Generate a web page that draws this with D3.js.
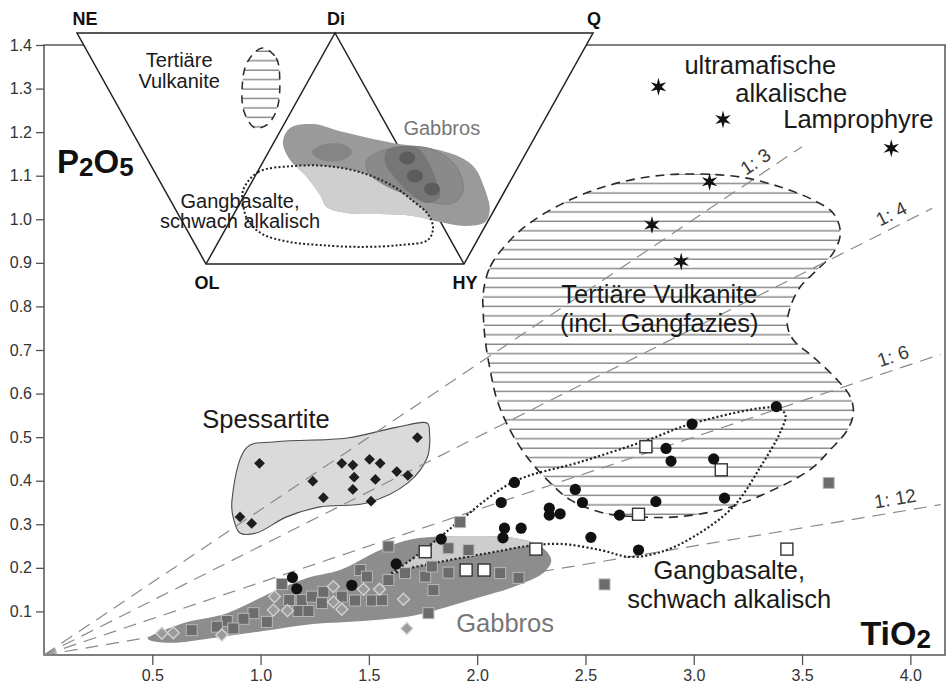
<!DOCTYPE html>
<html>
<head>
<meta charset="utf-8">
<script src="https://cdn.jsdelivr.net/npm/d3@7"></script>
<style>
  body { margin: 0; background: #fff; }
  svg { display: block; font-family: "Liberation Sans", Arial, Helvetica, sans-serif; }
</style>
</head>
<body>
<svg id="chart" width="948" height="690"></svg>
<script>
// ---- tick values ----
const xTicks = [0.5, 1.0, 1.5, 2.0, 2.5, 3.0, 3.5, 4.0];
const yTicks = [0.1, 0.2, 0.3, 0.4, 0.5, 0.6, 0.7, 0.8, 0.9, 1.0, 1.1, 1.2, 1.3, 1.4];

// ---- P2O5 : TiO2 ratio lines (1:n) and where they end ----
const ratios = [3, 4, 6, 12];
const ratioEnd = [3.5, 4.1, 4.14, 4.14];
const ratioLabelX = [3.32, 3.94, 3.94, 3.94];

// ---- samples [TiO2, P2O5] ----
const spessartite = [[0.995,0.440],[0.905,0.317],[0.959,0.302],[1.241,0.399],[1.290,0.361],
  [1.375,0.440],[1.426,0.436],[1.503,0.449],[1.552,0.440],[1.432,0.408],[1.530,0.403],
  [1.426,0.380],[1.629,0.421],[1.680,0.412],[1.510,0.353],[1.724,0.499]];

const gangbasalte = [[3.381,0.570],[2.992,0.530],[2.872,0.474],[2.895,0.445],[3.092,0.450],
  [2.172,0.396],[2.111,0.350],[2.453,0.380],[2.486,0.350],[2.825,0.352],[3.142,0.360],
  [2.333,0.337],[2.333,0.321],[2.383,0.324],[2.657,0.321],[2.126,0.291],[2.203,0.291],
  [2.119,0.269],[2.525,0.270],[2.745,0.241],[1.834,0.266],[1.626,0.209],[1.421,0.160],
  [1.147,0.178],[1.167,0.152]];

const openSquares = [[2.779,0.478],[3.127,0.425],[2.745,0.323],[2.271,0.243],[3.430,0.243],
  [1.949,0.195],[2.032,0.195],[1.760,0.237]];

const gabbroSquares = [[1.590,0.249],[1.921,0.305],[1.867,0.245],[1.960,0.241],[1.460,0.195],
  [1.491,0.180],[1.590,0.172],[1.667,0.188],[1.760,0.180],[1.791,0.203],[1.867,0.189],
  [2.106,0.188],[2.191,0.177],[1.798,0.149],[1.098,0.163],[1.132,0.126],[1.190,0.126],
  [1.237,0.134],[1.290,0.145],[1.283,0.119],[1.375,0.134],[1.436,0.125],[1.514,0.125],
  [1.560,0.126],[1.175,0.101],[1.221,0.101],[0.967,0.096],[0.921,0.083],[1.029,0.076],
  [0.844,0.078],[0.798,0.065],[0.874,0.061],[0.682,0.057],[1.775,0.096],[2.588,0.162],
  [3.623,0.395]];

const gabbroDiamonds = [[1.064,0.134],[1.336,0.157],[1.475,0.151],[1.549,0.151],[1.059,0.103],
  [1.124,0.102],[1.375,0.105],[1.660,0.128],[0.821,0.046],[1.675,0.061],[0.544,0.050],
  [0.597,0.051],[1.336,0.122]];

const lamprophyre = [[2.837,1.304],[3.135,1.229],[3.912,1.163],[3.073,1.086],[2.807,0.987],[2.942,0.903]];

// ---- fields [TiO2, P2O5] ----
const fieldSpessartite = [[0.868,0.356],[0.938,0.477],[1.058,0.489],[1.40,0.498],[1.63,0.523],
  [1.77,0.532],[1.78,0.51],[1.77,0.454],[1.68,0.395],[1.49,0.349],[1.275,0.34],[1.12,0.317],
  [0.98,0.28],[0.905,0.28],[0.873,0.317]];

const fieldGabbros = [[0.480,0.037],[0.642,0.073],[0.845,0.096],[1.058,0.145],[1.215,0.177],
  [1.367,0.195],[1.552,0.241],[1.704,0.266],[1.935,0.273],[2.166,0.269],[2.291,0.250],
  [2.342,0.218],[2.305,0.188],[2.166,0.156],[2.014,0.133],[1.861,0.110],[1.704,0.090],
  [1.473,0.078],[1.242,0.071],[1.012,0.055],[0.781,0.039],[0.582,0.028]];

const fieldTertiaer = [[2.028,0.831],[2.060,0.891],[2.152,0.952],[2.245,0.992],[2.397,1.037],
  [2.582,1.074],[2.785,1.097],[2.970,1.104],[3.215,1.097],[3.400,1.074],[3.552,1.044],
  [3.644,1.014],[3.677,0.969],[3.644,0.923],[3.570,0.884],[3.492,0.845],[3.446,0.799],
  [3.432,0.757],[3.460,0.723],[3.552,0.684],[3.663,0.631],[3.723,0.592],[3.737,0.555],
  [3.709,0.516],[3.630,0.471],[3.552,0.431],[3.460,0.402],[3.367,0.379],[3.261,0.356],
  [3.122,0.333],[2.924,0.317],[2.753,0.317],[2.582,0.326],[2.430,0.356],[2.323,0.402],
  [2.231,0.454],[2.152,0.516],[2.092,0.585],[2.060,0.654],[2.037,0.723],[2.028,0.785]];

const fieldGangbasalte = [[1.575,0.177],[1.704,0.222],[1.829,0.271],[1.908,0.303],[2.166,0.397],
  [2.476,0.443],[2.785,0.493],[2.998,0.532],[3.386,0.567],[3.423,0.551],[3.400,0.512],
  [3.307,0.431],[3.182,0.340],[2.998,0.271],[2.845,0.236],[2.707,0.225],[2.568,0.241],
  [2.383,0.255],[2.231,0.250],[2.074,0.236],[1.950,0.225],[1.800,0.211],[1.644,0.193]];

// ---- inset NE-Di-Q / OL-HY diagram, coordinates u (NE=0 .. Q=100), v (top=0 .. base=100) ----
const insetVertices = [
  {name: "NE", u: 0, v: 0}, {name: "Di", u: 50, v: 0}, {name: "Q", u: 100, v: 0},
  {name: "OL", u: 25, v: 100}, {name: "HY", u: 75, v: 100}];

const insetTertiaer = [[35.9,6.5],[38.6,10.8],[39.3,20.3],[38.8,32.5],[37.0,39.4],[34.5,41.1],
  [32.4,34.2],[32.0,23.8],[33.0,12.6]];

const insetGabbros = [[39.9,47.2],[41.3,41.1],[45.7,39.4],[51.6,42.9],[61.2,47.6],[68.4,49.8],
  [74.2,53.7],[77.1,58.4],[79.1,68.0],[80.0,76.6],[79.1,81.8],[75.2,83.5],[70.3,81.8],
  [65.1,79.2],[58.7,78.4],[52.3,77.9],[48.4,75.3],[47.1,70.1],[44.2,61.5],[41.3,55.0]];

const insetGabbrosMid = [[56.2,55.0],[59.7,50.6],[67.1,49.4],[71.7,53.7],[74.2,60.6],[74.8,68.8],
  [72.9,73.6],[68.4,73.2],[63.6,69.7],[59.3,65.4],[56.4,60.2]];

const insetGabbrosCore = [[60.1,50.6],[65.9,49.8],[68.4,57.1],[69.8,64.9],[70.3,71.0],[67.8,73.6],
  [64.5,69.3],[62.0,63.6],[59.7,56.3]];

const insetGabbrosLeft = [[45.5,51.5],[47.5,48.5],[51.5,48.2],[53.3,51.5],[51.5,55.0],[47.3,55.0]];

const insetBlobs = [[64.0,54.1],[65.5,61.9],[68.8,67.5]];

const insetGangbasalte = [[32.2,68.0],[35.1,60.2],[41.9,57.6],[48.4,57.6],[54.8,60.2],[61.2,66.2],
  [65.1,72.7],[68.0,78.4],[69.0,84.4],[68.0,89.6],[62.6,91.8],[54.8,92.6],[47.1,91.8],
  [41.3,90.5],[35.9,87.0],[33.1,81.0],[32.2,74.5]];

// ---- text ----
const mainLabels = [
  {text: "Spessartite", x: 1.025, y: 0.521, fill: "#1a1a1a"},
  {text: "Gabbros", x: 2.129, y: 0.053, fill: "#777"},
  {text: "Tertiäre Vulkanite", x: 2.841, y: 0.808, fill: "#1a1a1a"},
  {text: "(incl. Gangfazies)", x: 2.841, y: 0.741, fill: "#1a1a1a"},
  {text: "Gangbasalte,", x: 3.164, y: 0.174, fill: "#1a1a1a"},
  {text: "schwach alkalisch", x: 3.164, y: 0.108, fill: "#1a1a1a"},
  {text: "ultramafische", x: 3.307, y: 1.333, fill: "#1a1a1a"},
  {text: "alkalische", x: 3.450, y: 1.269, fill: "#1a1a1a"},
  {text: "Lamprophyre", x: 3.760, y: 1.210, fill: "#1a1a1a"}];

const insetLabels = [
  {text: "Tertiäre", u: 19.8, v: 14.7, fill: "#1a1a1a"},
  {text: "Vulkanite", u: 19.8, v: 23.8, fill: "#1a1a1a"},
  {text: "Gabbros", u: 70.7, v: 44.2, fill: "#777"},
  {text: "Gangbasalte,", u: 31.6, v: 75.8, fill: "#1a1a1a"},
  {text: "schwach alkalisch", u: 31.6, v: 84.4, fill: "#1a1a1a"}];

// ---- scales ----
const svg = d3.select("#chart");
const x = d3.scaleLinear().domain([0, 4.16]).range([44, 945]);
const y = d3.scaleLinear().domain([0, 1.4]).range([655, 45]);
const u = d3.scaleLinear().domain([0, 100]).range([77, 593]);
const v = d3.scaleLinear().domain([0, 100]).range([33, 264]);

const field = d3.line().x(d => x(d[0])).y(d => y(d[1])).curve(d3.curveCatmullRomClosed.alpha(0.5));
const insetField = d3.line().x(d => u(d[0])).y(d => v(d[1])).curve(d3.curveCatmullRomClosed.alpha(0.5));

// patterns and clips
const defs = svg.append("defs");
const hatch = defs.append("pattern").attr("id", "hatch")
  .attr("patternUnits", "userSpaceOnUse").attr("width", 10).attr("height", 9.45);
hatch.append("line").attr("x1", 0).attr("x2", 10).attr("y1", 4).attr("y2", 4)
  .attr("stroke", "#707070").attr("stroke-width", 1.2);
defs.append("clipPath").attr("id", "gabClip").append("path").attr("d", field(fieldGabbros));
defs.append("clipPath").attr("id", "insetGabClip").append("path").attr("d", insetField(insetGabbros));

// frame
svg.append("rect")
  .attr("x", x(0)).attr("y", y(1.4))
  .attr("width", x(4.16) - x(0)).attr("height", y(0) - y(1.4))
  .attr("fill", "none").attr("stroke", "#555").attr("stroke-width", 1.5);

// fields
svg.append("path").attr("d", field(fieldGabbros)).attr("fill", "#8d8d8d");
svg.append("path").attr("d", field(fieldGangbasalte)).attr("fill", "#cdcdcd")
  .attr("clip-path", "url(#gabClip)");
svg.append("path").attr("d", field(fieldSpessartite))
  .attr("fill", "#dadada").attr("stroke", "#4a4a4a").attr("stroke-width", 1.1);
svg.append("path").attr("d", field(fieldTertiaer))
  .attr("fill", "url(#hatch)").attr("stroke", "#2a2a2a").attr("stroke-width", 1.6)
  .attr("stroke-dasharray", "9,6");

// ratio lines
ratios.forEach((r, i) => {
  svg.append("line")
    .attr("x1", x(0)).attr("y1", y(0))
    .attr("x2", x(ratioEnd[i])).attr("y2", y(ratioEnd[i] / r))
    .attr("stroke", "#8a8a8a").attr("stroke-width", 1.2).attr("stroke-dasharray", "13,8");
  const ang = Math.atan2(y(1 / r) - y(0), x(1) - x(0)) * 180 / Math.PI;
  const lx = x(ratioLabelX[i]), ly = y(ratioLabelX[i] / r);
  svg.append("text")
    .attr("transform", `translate(${lx},${ly}) rotate(${ang}) translate(0,-7)`)
    .attr("text-anchor", "middle").attr("font-size", 19).attr("fill", "#3a3a3a")
    .text("1: " + r);
});

svg.append("path").attr("d", field(fieldGangbasalte))
  .attr("fill", "none").attr("stroke", "#222").attr("stroke-width", 2.2)
  .attr("stroke-dasharray", "2,2.3");

// symbols
svg.append("g").selectAll("rect").data(gabbroSquares).join("rect")
  .attr("x", d => x(d[0]) - 5.5).attr("y", d => y(d[1]) - 5.5)
  .attr("width", 11).attr("height", 11)
  .attr("fill", "#6c6c6c").attr("stroke", "#b8b8b8").attr("stroke-width", 1);

const diamond = d3.symbol().type(d3.symbolSquare).size(72);
svg.append("g").selectAll("path").data(gabbroDiamonds).join("path")
  .attr("d", diamond)
  .attr("transform", d => `translate(${x(d[0])},${y(d[1])}) rotate(45)`)
  .attr("fill", "#9b9b9b").attr("stroke", "#d4d4d4").attr("stroke-width", 1.3);

svg.append("g").selectAll("path").data(spessartite).join("path")
  .attr("d", d3.symbol().type(d3.symbolSquare).size(58))
  .attr("transform", d => `translate(${x(d[0])},${y(d[1])}) rotate(45)`)
  .attr("fill", "#1e1e1e");

svg.append("g").selectAll("rect").data(openSquares).join("rect")
  .attr("x", d => x(d[0]) - 6).attr("y", d => y(d[1]) - 6)
  .attr("width", 12).attr("height", 12)
  .attr("fill", "#fff").attr("stroke", "#333").attr("stroke-width", 1.4);

svg.append("g").selectAll("circle").data(gangbasalte).join("circle")
  .attr("cx", d => x(d[0])).attr("cy", d => y(d[1])).attr("r", 5.6)
  .attr("fill", "#111");

function starPath(r) {
  const pts = [];
  for (let i = 0; i < 12; i++) {
    const a = Math.PI / 6 * i - Math.PI / 2;
    const rr = i % 2 ? r * 0.36 : r;
    pts.push([rr * Math.cos(a), rr * Math.sin(a)]);
  }
  return "M" + pts.join("L") + "Z";
}
svg.append("g").selectAll("path").data(lamprophyre).join("path")
  .attr("d", starPath(9))
  .attr("transform", d => `translate(${x(d[0])},${y(d[1])})`)
  .attr("fill", "#111");

// main labels
svg.append("g").selectAll("text").data(mainLabels).join("text")
  .attr("x", d => x(d.x)).attr("y", d => y(d.y))
  .attr("text-anchor", "middle").attr("font-size", 25.5).attr("fill", d => d.fill)
  .text(d => d.text);

const p2o5 = svg.append("text").attr("x", x(0.06)).attr("y", y(1.106))
  .attr("font-size", 33).attr("font-weight", "bold").attr("fill", "#111");
p2o5.append("tspan").text("P");
p2o5.append("tspan").attr("font-size", 26).attr("dy", 3).text("2");
p2o5.append("tspan").attr("dy", -3).text("O");
p2o5.append("tspan").attr("font-size", 26).attr("dy", 3).text("5");

const tio2 = svg.append("text").attr("x", x(4.095)).attr("y", y(0.023))
  .attr("text-anchor", "end").attr("font-size", 34).attr("font-weight", "bold").attr("fill", "#111");
tio2.append("tspan").text("TiO");
tio2.append("tspan").attr("font-size", 26).attr("dy", 3).text("2");

// ---- inset ----
const V = Object.fromEntries(insetVertices.map(d => [d.name, [u(d.u), v(d.v)]]));
const inset = svg.append("g");
inset.append("path")
  .attr("d", "M" + [V.NE, V.Q, V.HY, V.OL].join("L") + "Z")
  .attr("fill", "#fff").attr("stroke", "#222").attr("stroke-width", 1.5);
inset.append("path")
  .attr("d", "M" + [V.OL, V.Di, V.HY].join("L"))
  .attr("fill", "none").attr("stroke", "#222").attr("stroke-width", 1.5);

inset.append("path").attr("d", insetField(insetTertiaer))
  .attr("fill", "url(#hatch)").attr("stroke", "#2a2a2a").attr("stroke-width", 1.5)
  .attr("stroke-dasharray", "8,6");

inset.append("path").attr("d", insetField(insetGabbros)).attr("fill", "#9a9a9a");
inset.append("path").attr("d", insetField(insetGangbasalte)).attr("fill", "#cfcfcf")
  .attr("clip-path", "url(#insetGabClip)");
inset.append("path").attr("d", insetField(insetGabbrosLeft)).attr("fill", "#858585");
inset.append("path").attr("d", insetField(insetGabbrosMid)).attr("fill", "#8a8a8a")
  .attr("stroke", "#7a7a7a").attr("stroke-width", 0.8);
inset.append("path").attr("d", insetField(insetGabbrosCore)).attr("fill", "#767676");
inset.selectAll("ellipse").data(insetBlobs).join("ellipse")
  .attr("cx", d => u(d[0])).attr("cy", d => v(d[1])).attr("rx", 8).attr("ry", 6.5)
  .attr("fill", "#5c5c5c");

inset.append("path").attr("d", insetField(insetGangbasalte))
  .attr("fill", "none").attr("stroke", "#222").attr("stroke-width", 2)
  .attr("stroke-dasharray", "2,2.2");

inset.selectAll("text.lab").data(insetLabels).join("text").attr("class", "lab")
  .attr("x", d => u(d.u)).attr("y", d => v(d.v))
  .attr("text-anchor", "middle").attr("font-size", 20).attr("fill", d => d.fill)
  .text(d => d.text);

inset.selectAll("text.vx").data(insetVertices).join("text").attr("class", "vx")
  .attr("x", d => u(d.u) + (d.name === "NE" ? 8 : 1))
  .attr("y", d => v(d.v) + (d.v === 0 ? -8 : 25))
  .attr("text-anchor", "middle").attr("font-size", 18).attr("font-weight", "bold").attr("fill", "#111")
  .text(d => d.name);

// ---- axes ----
const yAxis = svg.append("g").attr("transform", `translate(${x(0)},0)`)
  .call(d3.axisLeft(y).tickValues(yTicks).tickFormat(d3.format(".1f")).tickSize(8).tickPadding(4));
const xAxis = svg.append("g").attr("transform", `translate(0,${y(0)})`)
  .call(d3.axisBottom(x).tickValues(xTicks).tickFormat(d3.format(".1f")).tickSize(10).tickPadding(5));
[xAxis, yAxis].forEach(g => {
  g.select(".domain").remove();
  g.selectAll(".tick line").attr("stroke", "#555").attr("stroke-width", 1.3);
  g.selectAll(".tick text").attr("font-size", 16).attr("fill", "#333")
    .attr("font-family", "\"Liberation Sans\", Arial, sans-serif");
});
</script>
</body>
</html>
